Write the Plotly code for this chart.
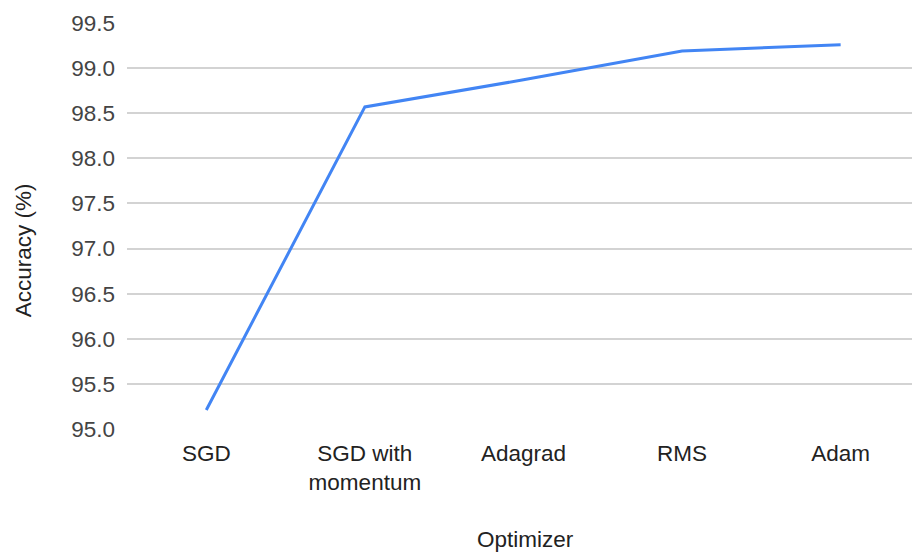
import plotly.graph_objects as go

optimizers = ["SGD", "SGD with<br>momentum", "Adagrad", "RMS", "Adam"]
accuracy = [95.21, 98.57, 98.87, 99.19, 99.26]
y_ticks = [95.0, 95.5, 96.0, 96.5, 97.0, 97.5, 98.0, 98.5, 99.0, 99.5]
y_tick_labels = [f"{v:.1f}" for v in y_ticks]

FONT = "Arial, Liberation Sans, sans-serif"
FS = 22.5

fig = go.Figure()
fig.add_trace(go.Scatter(
    x=list(range(len(optimizers))), y=accuracy, mode="lines",
    line=dict(color="#4285F4", width=3),
    showlegend=False,
))

fig.update_layout(
    width=912, height=557,
    margin=dict(l=127, r=0, t=23, b=128),
    paper_bgcolor="white", plot_bgcolor="white",
    font=dict(family=FONT, size=FS, color="#444444"),
    xaxis=dict(
        tickmode="array", tickvals=list(range(len(optimizers))), ticktext=optimizers,
        range=[-0.5, 4.45], showgrid=False, zeroline=False, showline=False,
        ticks="", tickfont=dict(size=FS, color="#222222"), ticklabelstandoff=8,
    ),
    yaxis=dict(
        tickmode="array", tickvals=y_ticks, ticktext=y_tick_labels,
        range=[95.0, 99.5], showgrid=True, gridcolor="#d3d3d3", gridwidth=1.5,
        zeroline=False, showline=False, ticks="",
        tickfont=dict(size=FS, color="#444444"), ticklabelstandoff=11,
    ),
    annotations=[
        dict(text="Optimizer", xref="paper", yref="paper", x=0.508, y=-0.273,
             showarrow=False, font=dict(size=FS, color="#222222"),
             xanchor="center", yanchor="middle"),
        dict(text="Accuracy (%)", xref="paper", yref="paper", x=-0.1325, y=0.44,
             showarrow=False, textangle=-90, font=dict(size=FS, color="#222222"),
             xanchor="center", yanchor="middle"),
    ],
)

fig.write_html("out.html")
